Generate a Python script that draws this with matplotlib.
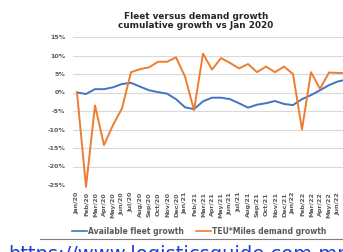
import numpy as np
import matplotlib.pyplot as plt
from matplotlib.lines import Line2D

# month labels
months = ['Jan/20', 'Feb/20', 'Mar/20', 'Apr/20', 'May/20', 'Jun/20', 'Jul/20', 'Aug/20',
          'Sep/20', 'Oct/20', 'Nov/20', 'Dec/20', 'Jan/21', 'Feb/21', 'Mar/21', 'Apr/21',
          'May/21', 'Jun/21', 'Jul/21', 'Aug/21', 'Sep/21', 'Oct/21', 'Nov/21', 'Dec/21',
          'Jan/22', 'Feb/22', 'Mar/22', 'Apr/22', 'May/22', 'Jun/22', 'Jul/22']

# cumulative growth vs Jan 2020, %
fleet = [0, -0.4, 0.9, 0.9, 1.4, 2.3, 2.6, 1.6, 0.6, 0.1, -0.3, -1.8, -4.0, -4.5, -2.4, -1.4,
         -1.4, -1.8, -2.9, -4.1, -3.3, -2.9, -2.3, -3.1, -3.4, -1.8, -0.7, 0.6, 2.0, 3.0, 3.5]
demand = [0, -25.5, -3.5, -14.2, -8.8, -4.3, 5.5, 6.3, 6.8, 8.3, 8.3, 9.5, 4.3, -4.8, 10.5, 6.2,
          9.3, 8.0, 6.5, 7.7, 5.5, 7.0, 5.5, 7.0, 5.0, -10.0, 5.5, 1.0, 5.4, 5.3, 5.2]

yticks = [15, 10, 5, 0, -5, -10, -15, -20, -25]

blue = '#4472C4'
orange = '#ED7D31'
grey = '#595959'

fig = plt.figure(figsize=(3.43, 2.52), dpi=100)
ax = fig.add_axes([72.5 / 343, 1 - 185 / 252, 279 / 343, 148 / 252])

x = np.arange(len(months))
ax.plot(x, fleet, color=blue, lw=1.4, clip_on=False, zorder=3)
ax.plot(x, demand, color=orange, lw=1.4, clip_on=False, zorder=3)

ax.set_xlim(-0.5, len(months) - 0.5)
ax.set_ylim(-25, 15)
ax.set_yticks(yticks)
ax.set_yticklabels([f'{v}%' for v in yticks], fontsize=4.6, fontweight='bold', color=grey)
ax.set_xticks(x)
ax.set_xticklabels(months, rotation=90, fontsize=4.6, fontweight='bold', color=grey)
ax.tick_params(length=0, pad=5)
ax.grid(axis='y', color='#D9D9D9', lw=0.8)
for s in ax.spines.values():
    s.set_visible(False)

fig.text(196 / 343, 1 - 21 / 252, 'Fleet versus demand growth\ncumulative growth vs Jan 2020',
         ha='center', va='center', fontsize=6.4, fontweight='bold', color='#262626',
         linespacing=1.05)

handles = [Line2D([], [], color=blue, lw=1.2), Line2D([], [], color=orange, lw=1.2)]
fig.legend(handles, ['Available fleet growth', 'TEU*Miles demand growth'], ncol=2,
           loc='center', bbox_to_anchor=(199 / 343, 1 - 231 / 252), frameon=False,
           prop={'size': 5.5, 'weight': 'bold'}, labelcolor=grey,
           handlelength=2.0, handletextpad=0.1, columnspacing=1.6)

fig.add_artist(Line2D([40 / 343, 1], [1 - 239 / 252] * 2, color='#7F7F7F', lw=0.8))
fig.text(8 / 343, 1 - 245 / 252, 'https://www.logisticsguide.com.mm/', ha='left', va='top',
         fontsize=14, color='#2040C8')

fig.savefig('out.png', dpi=100)
